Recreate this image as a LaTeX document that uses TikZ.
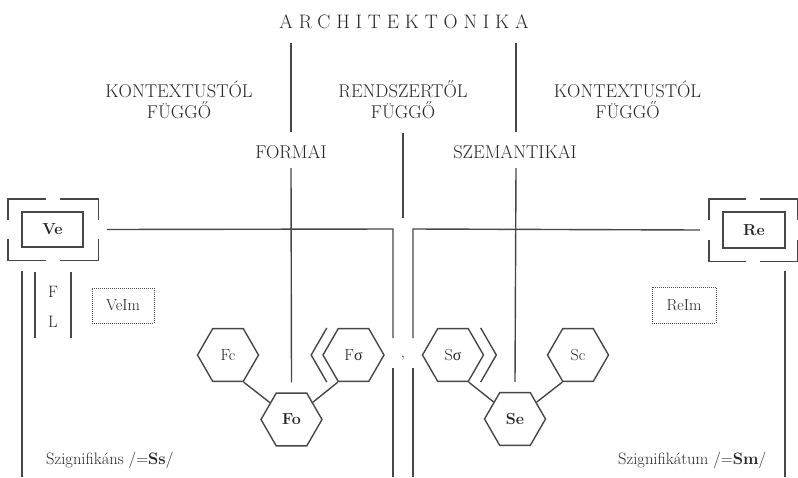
\documentclass[tikz,border=0pt]{standalone}
\usepackage{fontspec}
\setmainfont{Latin Modern Roman}
\newfontfamily\grk{Liberation Serif}
\usetikzlibrary{shapes.geometric,calc}
\definecolor{ln}{HTML}{474747}
\definecolor{tx}{HTML}{262626}
\begin{document}
\begin{tikzpicture}[x=1pt,y=-1pt,
  line/.style={draw=ln,line width=1.4pt},
  lbl/.style={text=tx,font=\fontsize{18.5}{21}\selectfont,align=center,inner sep=0},
  hexa/.style={regular polygon,regular polygon sides=6,minimum size=61pt,inner sep=0,draw=ln,line width=1.4pt,text=tx,font=\fontsize{16}{18}\selectfont},
  boxin/.style={draw=ln,line width=1.4pt,minimum width=61pt,minimum height=35pt,inner sep=0,text=tx,font=\bfseries\fontsize{16}{18}\selectfont},
  frm/.style={minimum width=90pt,minimum height=61pt,inner sep=0},
  imbox/.style={draw=ln,densely dotted,line width=1pt,minimum width=62pt,minimum height=35pt,inner sep=0,text=tx,font=\fontsize{16}{18}\selectfont},
  small/.style={text=tx,font=\fontsize{16.5}{18}\selectfont,inner sep=0}
]
\useasboundingbox (0,0) rectangle (798,477);

% title and labels
\node[text=tx,inner sep=0,font=\fontsize{19.5}{22}\selectfont\addfontfeatures{LetterSpace=30}] (title) at (404,22) {ARCHITEKTONIKA};
\node[lbl] (k1) at (179,100) {KONTEXTUSTÓL\\FÜGGŐ};
\node[lbl] (r1) at (403,100) {RENDSZERTŐL\\FÜGGŐ};
\node[lbl] (k2) at (627.5,100) {KONTEXTUSTÓL\\FÜGGŐ};
\node[lbl] (formai) at (291,152) {FORMAI};
\node[lbl] (szem) at (515,152) {SZEMANTIKAI};

% hexagons
\node[hexa] (Fc) at (228,355) {Fc};
\node[hexa,font=\bfseries\fontsize{16}{18}\selectfont] (Fo) at (291.5,419.5) {Fo};
\node[hexa] (Fs) at (353.5,355) {F{\grk σ}};
\node[hexa] (Ss) at (453,355) {S{\grk σ}};
\node[hexa,font=\bfseries\fontsize{16}{18}\selectfont] (Se) at (515,419) {Se};
\node[hexa] (Sc) at (578,355) {Sc};

\draw[line] (Fc.-60) -- (Fo);
\draw[line] (Fs.-120) -- (Fo);
\draw[line] (Ss.-60) -- (Se);
\draw[line] (Sc.-120) -- (Se);
\draw[line] ([xshift=-11pt]Fs.120) -- ([xshift=-11pt]Fs.180) -- ([xshift=-11pt]Fs.240);
\draw[line] ([xshift=12pt]Ss.60) -- ([xshift=12pt]Ss.0) -- ([xshift=12pt]Ss.-60);

% Ve and Re boxes
\node[boxin] (Ve) at (52.5,229.5) {Ve};
\node[frm] (VeF) at (53,229.5) {};
\node[boxin,minimum width=62pt,minimum height=36pt] (Re) at (754,230) {Re};
\node[frm,minimum width=88pt,minimum height=62pt] (ReF) at (753,230) {};
\foreach \f/\h in {VeF/38,ReF/37}{
  \draw[line] ($(\f.north west)+(0,21)$) -- (\f.north west) -- ($(\f.north west)+(\h,0)$);
  \draw[line] ($(\f.north east)+(0,21)$) -- (\f.north east) -- ($(\f.north east)+(-\h,0)$);
  \draw[line] ($(\f.south west)+(0,-21)$) -- (\f.south west) -- ($(\f.south west)+(\h,0)$);
  \draw[line] ($(\f.south east)+(0,-21)$) -- (\f.south east) -- ($(\f.south east)+(-\h,0)$);
}

% junction coordinates
\coordinate (jl) at (393,229);
\coordinate (jr) at (413,229);
\coordinate (jlb) at (393,338);
\coordinate (jrb) at (413,338);
\coordinate (jlc) at (393,368);
\coordinate (jrc) at (413,368);
\coordinate (jld) at (393,477);
\coordinate (jrd) at (413,477);
\draw[line] ([xshift=9pt]VeF.east) -- (jl) -- (jlb);
\draw[line] ([xshift=-9pt]ReF.west) -- (jr) -- (jrb);
\draw[line] (jlc) -- (jld);
\draw[line] (jrc) -- (jrd);
\node[small,anchor=base] (comma) at (403,357.5) {,};

% vertical axes
\coordinate (a1) at (291,43);
\coordinate (a2) at (291,132);
\coordinate (a3) at (291,168);
\coordinate (b1) at (516,43);
\coordinate (b2) at (516,132);
\coordinate (b3) at (516,168);
\coordinate (m1) at (403,133);
\coordinate (m2) at (403,218);
\draw[line] (a1) -- (a2);
\draw[line] (a3) -- ([yshift=10pt]Fo.north);
\draw[line] (b1) -- (b2);
\draw[line] (b3) -- ([yshift=10pt]Se.north);
\draw[line] (m1) -- (m2);

% left side
\coordinate (l1) at (22,271);
\coordinate (l2) at (22,477);
\draw[line] (l1) -- (l2);
\coordinate (fl1) at (35,272);
\coordinate (fl2) at (35,338);
\coordinate (fr1) at (71,272);
\coordinate (fr2) at (71,338);
\draw[line] (fl1) -- (fl2);
\draw[line] (fr1) -- (fr2);
\node[small] (F) at (53,292) {F};
\node[small] (L) at (53,322) {L};
\node[imbox] (VeIm) at (123,305.5) {VeIm};

% right side
\coordinate (r1a) at (785,271);
\coordinate (r1b) at (785,477);
\draw[line] (r1a) -- (r1b);
\node[imbox,minimum width=64pt,minimum height=36pt] (ReIm) at (684,305) {ReIm};

% bottom labels
\node[small,anchor=west] (Ssl) at (46,460) {Szignifikáns /=\textbf{Ss}/};
\node[small,anchor=west] (Sml) at (618,460) {Szignifikátum /=\textbf{Sm}/};
\end{tikzpicture}
\end{document}
